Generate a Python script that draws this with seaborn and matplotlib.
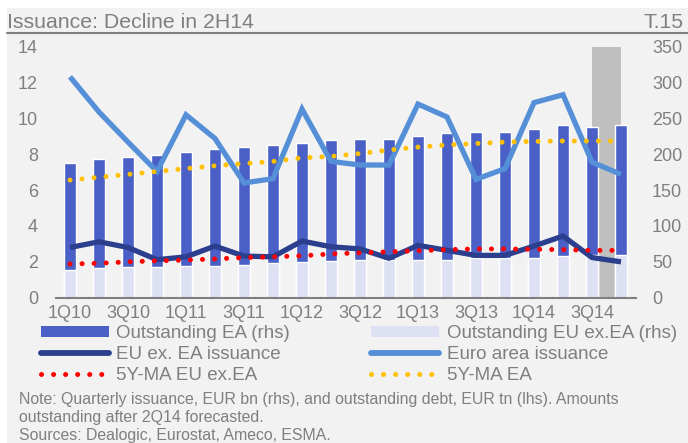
import numpy as np
import pandas as pd
import seaborn as sns
import matplotlib
matplotlib.use("Agg")
import matplotlib.pyplot as plt
from matplotlib.patches import Patch, Rectangle
from matplotlib.lines import Line2D

# ---------------- data ----------------
quarters = ["1Q10", "2Q10", "3Q10", "4Q10", "1Q11", "2Q11", "3Q11", "4Q11",
            "1Q12", "2Q12", "3Q12", "4Q12", "1Q13", "2Q13", "3Q13", "4Q13",
            "1Q14", "2Q14", "3Q14", "4Q14"]
tick_labels = ["1Q10", "3Q10", "1Q11", "3Q11", "1Q12", "3Q12", "1Q13", "3Q13", "1Q14", "3Q14"]

# outstanding debt, EUR tn (lhs)
outstanding_eu_ex_ea = [1.54, 1.67, 1.69, 1.73, 1.75, 1.79, 1.82, 1.92, 1.97, 2.05,
                        2.12, 2.12, 2.10, 2.12, 2.20, 2.20, 2.23, 2.31, 2.36, 2.36]
outstanding_ea = [5.96, 6.08, 6.16, 6.21, 6.38, 6.50, 6.57, 6.58, 6.66, 6.73,
                  6.75, 6.73, 6.92, 7.05, 7.02, 7.04, 7.20, 7.32, 7.16, 7.27]

# quarterly issuance, EUR bn (rhs)
euro_area_issuance = [308, 259, 217, 176, 255, 222, 160, 166, 263, 190,
                      185, 185, 270, 252, 165, 180, 272, 283, 189, 172]
eu_ex_ea_issuance = [70, 78, 70, 53, 57, 72, 58, 57, 79, 71,
                     68, 55, 73, 66, 59, 59, 72, 86, 56, 50]
ma5y_eu_ex_ea = [47, 48, 50, 51.5, 52.5, 54, 56, 57, 58.5, 61,
                 62.5, 64, 65.5, 67, 68, 68, 67.5, 67, 66, 66]
ma5y_ea = [164, 168, 172, 176, 180, 184, 187, 190, 195, 197,
           201, 206, 210, 213, 215, 217, 218, 218.5, 218.5, 218.5]

forecast_from, forecast_to = "3Q14", "4Q14"

# ---------------- style ----------------
DARK = "#4A60C7"
LIGHT = "#DEE1F4"
NAVY = "#2C3F8E"
SKY = "#558FD7"
RED = "#FF0000"
GOLD = "#FFC000"
GREY = "#7F7F7F"
BG = "#F2F2F2"

sns.set_style("white")
plt.rcParams["font.family"] = ["Liberation Sans", "DejaVu Sans"]

W, H = 688, 443
fig = plt.figure(figsize=(W / 100, H / 100), dpi=100, facecolor="white")
fig.patches.append(Rectangle((7 / W, 0), 1, 1 - 8 / H, transform=fig.transFigure,
                             facecolor=BG, edgecolor="none", zorder=-10))

ax = fig.add_axes([55.5 / W, 1 - 297.7 / H, 580 / W, 251 / H])
ax.patch.set_visible(False)

df = pd.DataFrame({
    "quarter": quarters,
    "total": np.array(outstanding_ea) + np.array(outstanding_eu_ex_ea),
    "euex": outstanding_eu_ex_ea,
})

# forecast shading
i0, i1 = quarters.index(forecast_from), quarters.index(forecast_to)
ax.axvspan(i0, i1, color="#BFBFBF", lw=0, zorder=0.5)

sns.barplot(data=df, x="quarter", y="total", order=quarters, color=DARK,
            saturation=1, width=0.41, errorbar=None, ax=ax, zorder=2)
sns.barplot(data=df, x="quarter", y="euex", order=quarters, color=LIGHT,
            saturation=1, width=0.41, errorbar=None, ax=ax, zorder=2)

ax2 = ax.twinx()
ax2.patch.set_visible(False)
pos = np.arange(len(quarters))
dot = (0, (0.01, 2.4))
sns.lineplot(x=pos, y=euro_area_issuance, ax=ax2, color=SKY, linewidth=3.8,
             solid_capstyle="butt", solid_joinstyle="miter")
sns.lineplot(x=pos, y=eu_ex_ea_issuance, ax=ax2, color=NAVY, linewidth=3.8,
             solid_capstyle="butt")
sns.lineplot(x=pos, y=ma5y_eu_ex_ea, ax=ax2, color=RED, linewidth=3.6,
             linestyle=dot, dash_capstyle="round")
sns.lineplot(x=pos, y=ma5y_ea, ax=ax2, color=GOLD, linewidth=3.6,
             linestyle=dot, dash_capstyle="round")

ax.set_xlim(-0.5, len(quarters) - 0.5)
ax.set_ylim(0, 14)
ax.set_yticks(range(0, 15, 2))
ax.set_xticks([quarters.index(t) for t in tick_labels])
ax.set_xticklabels(tick_labels)
ax2.set_ylim(0, 350)
ax2.set_yticks(range(0, 351, 50))
for a in (ax, ax2):
    a.set_xlabel("")
    a.set_ylabel("")
    for s in a.spines.values():
        s.set_visible(False)
ax.spines["bottom"].set_visible(True)
ax.spines["bottom"].set_color(GREY)
ax.spines["bottom"].set_linewidth(1.5)
ax.spines["bottom"].set_zorder(3)

ax.tick_params(axis="y", length=0, pad=12.6, labelsize=13, labelcolor=GREY)
ax.tick_params(axis="x", length=0, pad=5.5, labelsize=13, labelcolor=GREY)
ax2.tick_params(axis="y", length=0, pad=11.9, labelsize=13, labelcolor=GREY)
ax.grid(False)
ax2.grid(False)

# legend (column-first ordering for a 2-column layout)
handles = [
    Patch(facecolor=DARK, edgecolor="none"),
    Line2D([], [], color=NAVY, lw=4.2, solid_capstyle="round"),
    Line2D([], [], color=RED, lw=3.6, linestyle=dot, dash_capstyle="round"),
    Patch(facecolor=LIGHT, edgecolor="none"),
    Line2D([], [], color=SKY, lw=4.2, solid_capstyle="round"),
    Line2D([], [], color=GOLD, lw=3.6, linestyle=dot, dash_capstyle="round"),
]
labels = ["Outstanding EA (rhs)", "EU ex. EA issuance", "5Y-MA EU ex.EA",
          "Outstanding EU ex.EA (rhs)", "Euro area issuance", "5Y-MA EA"]
fig.legend(handles, labels, ncol=2, loc="upper left",
           bbox_to_anchor=(40.7 / W, 1 - 325 / H), frameon=False, fontsize=13.5,
           handlelength=3.63, handleheight=0.48, handletextpad=0.41,
           columnspacing=4.3, labelspacing=0.2, borderpad=0, borderaxespad=0,
           labelcolor=GREY)

# header
fig.text(7 / W, 1 - 28 / H, "Issuance: Decline in 2H14", fontsize=15.3,
         color=GREY, ha="left", va="baseline")
fig.text(684 / W, 1 - 28 / H, "T.15", fontsize=15.3, color=GREY,
         ha="right", va="baseline")
fig.add_artist(Line2D([7 / W, 1], [1 - 33 / H] * 2, transform=fig.transFigure,
                      color=GREY, lw=1.5))

note = ("Note: Quarterly issuance, EUR bn (rhs), and outstanding debt, EUR tn (lhs). Amounts\n"
        "outstanding after 2Q14 forecasted.\n"
        "Sources: Dealogic, Eurostat, Ameco, ESMA.")
fig.text(19 / W, 1 - 392 / H, note, fontsize=11.4, color=GREY, ha="left",
         va="top", linespacing=1.25)

fig.savefig("out.png", dpi=100, facecolor=fig.get_facecolor())
